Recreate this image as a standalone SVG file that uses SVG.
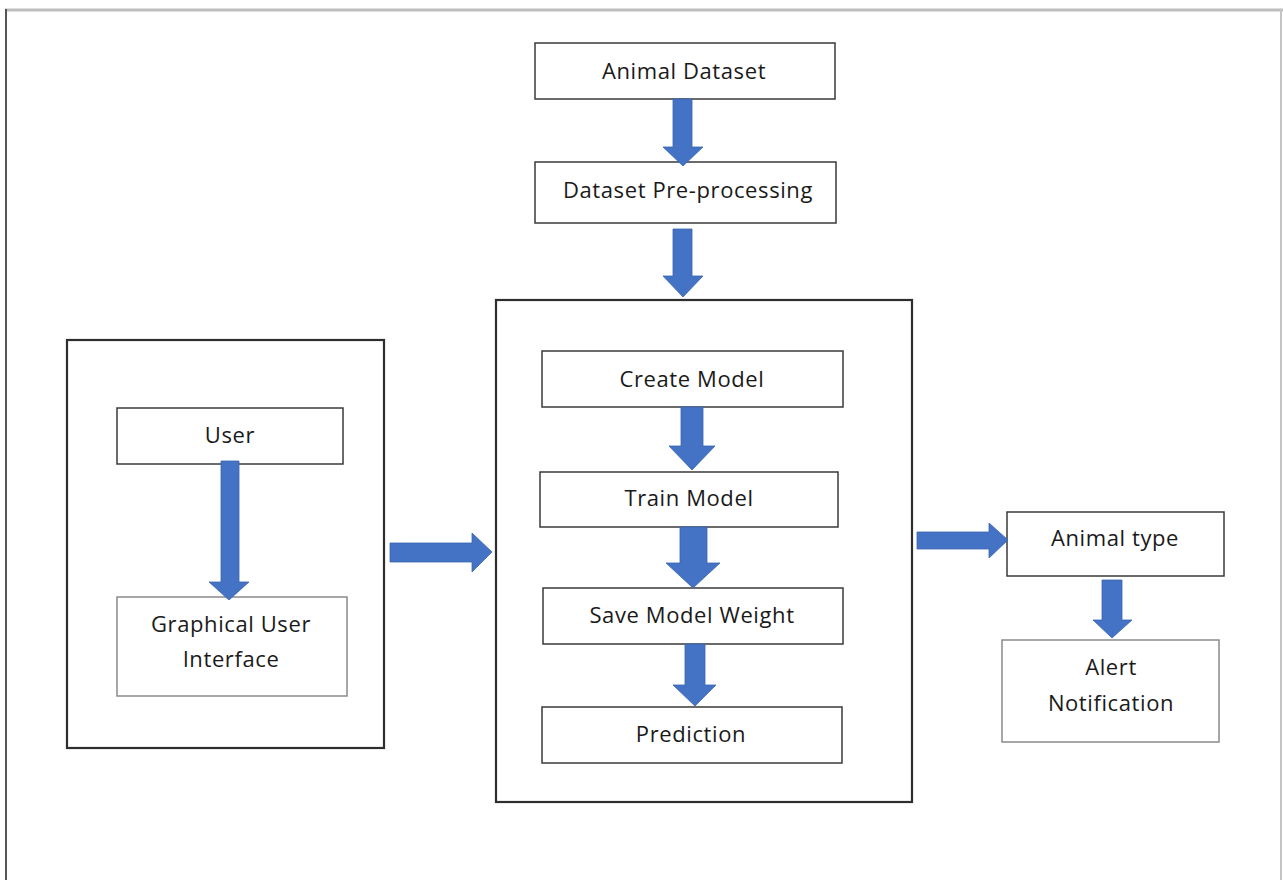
<svg xmlns="http://www.w3.org/2000/svg" width="1283" height="880" viewBox="0 0 1283 880">
<style>
.box{fill:#fff;stroke:#3a3a3a;stroke-width:1.5}
.light{fill:#fff;stroke:#8a8a8a;stroke-width:1.5}
.frame{fill:none;stroke:#2e2e2e;stroke-width:2.2}
.arr{fill:#4472c4;stroke:#3a64b0;stroke-width:0.8}
text{font-family:"Open Sans","Liberation Sans",sans-serif;font-size:22px;letter-spacing:0.6px;fill:#1a1a1a;text-anchor:middle}
</style>
<rect width="1283" height="880" fill="#fff"/>
<g id="page-border">
<line x1="5" y1="10" x2="1283" y2="10" stroke="#bdbdbd" stroke-width="3"/>
<line x1="6" y1="9" x2="6" y2="880" stroke="#555" stroke-width="2"/>
<line x1="1281" y1="9" x2="1281" y2="880" stroke="#c4c4c4" stroke-width="2"/>
</g>
<g id="user-group"><rect class="frame" x="67" y="340" width="317" height="408"/></g>
<g id="model-group"><rect class="frame" x="496" y="300" width="416" height="502"/></g>
<g id="animal-dataset"><rect class="box" x="535" y="43" width="300" height="56"/><text x="684" y="79">Animal Dataset</text></g>
<g id="preprocessing"><rect class="box" x="535" y="162" width="301" height="61"/><text x="688" y="198">Dataset Pre-processing</text></g>
<g id="user"><rect class="box" x="117" y="408" width="226" height="56"/><text x="230" y="443">User</text></g>
<g id="gui"><rect class="light" x="117" y="597" width="230" height="99"/><text x="231" y="632">Graphical User</text><text x="231" y="667">Interface</text></g>
<g id="create-model"><rect class="box" x="542" y="351" width="301" height="56"/><text x="692" y="387">Create Model</text></g>
<g id="train-model"><rect class="box" x="540" y="472" width="298" height="55"/><text x="689" y="506">Train Model</text></g>
<g id="save-weight"><rect class="box" x="543" y="588" width="300" height="56"/><text x="692" y="623">Save Model Weight</text></g>
<g id="prediction"><rect class="box" x="542" y="707" width="300" height="56"/><text x="691" y="742">Prediction</text></g>
<g id="animal-type"><rect class="box" x="1007" y="512" width="217" height="64"/><text x="1115" y="546">Animal type</text></g>
<g id="alert"><rect class="light" x="1002" y="640" width="217" height="102"/><text x="1111" y="675">Alert</text><text x="1111" y="711">Notification</text></g>
<g id="connectors">
<polygon class="arr" points="673,99 692,99 692,147 703,147 683,166 663,147 673,147"/>
<polygon class="arr" points="673,229 692,229 692,276 703,276 683,297 663,276 673,276"/>
<polygon class="arr" points="221,461 239,461 239,582 249,582 229,600 209,582 221,582"/>
<polygon class="arr" points="390,543 472,543 472,533 492,552 472,572 472,562 390,562"/>
<polygon class="arr" points="681,407 703,407 703,446 715,446 692,470 669,446 681,446"/>
<polygon class="arr" points="680,527 707,527 707,563 720,563 693,588 666,563 680,563"/>
<polygon class="arr" points="685,644 705,644 705,685 716,685 695,706 673,685 685,685"/>
<polygon class="arr" points="917,532 989,532 989,523 1008,540 989,558 989,549 917,549"/>
<polygon class="arr" points="1102,580 1122,580 1122,620 1132,620 1112,638 1093,620 1102,620"/>
</g>
</svg>
